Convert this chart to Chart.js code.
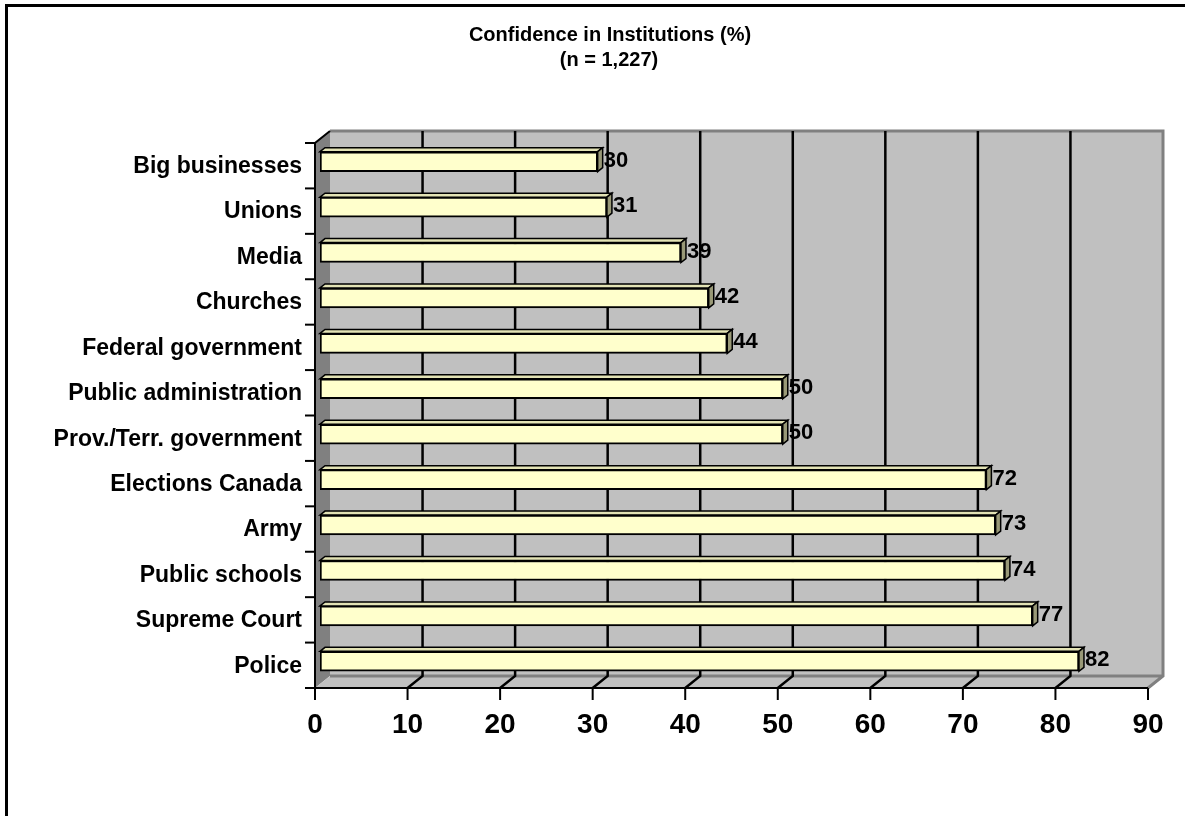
<!DOCTYPE html>
<html>
<head>
<meta charset="utf-8">
<script src="https://cdn.jsdelivr.net/npm/chart.js@4.4.1/dist/chart.umd.min.js"></script>
<style>
    html, body { margin: 0; padding: 0; background: #fff; }
    canvas { display: block; }
</style>
</head>
<body>
<canvas id="confidenceChart" width="1185" height="816"></canvas>
<script>
const institutions = ['Big businesses', 'Unions', 'Media', 'Churches', 'Federal government',
    'Public administration', 'Prov./Terr. government', 'Elections Canada', 'Army',
    'Public schools', 'Supreme Court', 'Police'];
const confidence = [30, 31, 39, 42, 44, 50, 50, 72, 73, 74, 77, 82];
const xTicks = [0, 10, 20, 30, 40, 50, 60, 70, 80, 90];
const titleLines = ['Confidence in Institutions (%)', '(n = 1,227)'];

const FONT = "'Liberation Sans', Arial, sans-serif";
// depth of the 3D box: bars sit one third of the way back
const FRONT = { dx: -5, dy: 4 };
const BACK = { dx: 10, dy: -8 };
const BAR_DEPTH = { dx: 5, dy: -4 };

const box3d = {
    id: 'box3d',
    beforeDraw(chart) {
        const ctx = chart.ctx;
        ctx.save();
        // outer frame (only top and left edges show)
        ctx.strokeStyle = '#000';
        ctx.lineWidth = 3;
        ctx.beginPath();
        ctx.moveTo(6.5, 816);
        ctx.lineTo(6.5, 5.5);
        ctx.lineTo(1185, 5.5);
        ctx.stroke();

        // title
        ctx.fillStyle = '#000';
        ctx.font = `bold 20px ${FONT}`;
        ctx.textAlign = 'center';
        ctx.textBaseline = 'alphabetic';
        ctx.fillText(titleLines[0], 610, 41);
        ctx.fillText(titleLines[1], 609, 66);
        ctx.restore();
    },
    beforeDatasetsDraw(chart) {
        const ctx = chart.ctx;
        const a = chart.chartArea;
        const xs = chart.scales.x;
        const fl = a.left + FRONT.dx, fr = a.right + FRONT.dx;
        const ft = a.top + FRONT.dy, fb = a.bottom + FRONT.dy;
        const bl = a.left + BACK.dx, br = a.right + BACK.dx;
        const bt = a.top + BACK.dy, bb = a.bottom + BACK.dy;
        ctx.save();

        // back wall
        ctx.fillStyle = '#C0C0C0';
        ctx.fillRect(bl, bt, br - bl, bb - bt);
        // left wall
        ctx.fillStyle = '#808080';
        ctx.beginPath();
        ctx.moveTo(fl, ft); ctx.lineTo(bl, bt); ctx.lineTo(bl, bb); ctx.lineTo(fl, fb);
        ctx.closePath();
        ctx.fill();
        // floor
        ctx.fillStyle = '#C0C0C0';
        ctx.beginPath();
        ctx.moveTo(fl, fb); ctx.lineTo(bl, bb); ctx.lineTo(br, bb); ctx.lineTo(fr, fb);
        ctx.closePath();
        ctx.fill();
        // wall edges
        ctx.strokeStyle = '#808080';
        ctx.lineWidth = 3;
        ctx.beginPath();
        ctx.moveTo(bl, bt); ctx.lineTo(br, bt); ctx.lineTo(br, bb); ctx.lineTo(fr, fb);
        ctx.moveTo(bl, bb); ctx.lineTo(br, bb);
        ctx.stroke();

        // grid lines on back wall and floor
        ctx.strokeStyle = '#000';
        ctx.lineWidth = 2.5;
        xTicks.forEach(v => {
            if (v === 0 || v === 90) return;
            const x = xs.getPixelForValue(v);
            ctx.beginPath();
            ctx.moveTo(x + BACK.dx, bt);
            ctx.lineTo(x + BACK.dx, bb);
            ctx.lineTo(x + FRONT.dx, fb);
            ctx.stroke();
        });

        // front axes
        ctx.lineWidth = 2;
        ctx.beginPath();
        ctx.moveTo(bl, bt); ctx.lineTo(fl, ft); ctx.lineTo(fl, fb + 12);
        ctx.moveTo(fl, fb); ctx.lineTo(fr, fb);
        ctx.stroke();
        xTicks.forEach(v => {
            const x = xs.getPixelForValue(v) + FRONT.dx;
            ctx.beginPath();
            ctx.moveTo(x, fb); ctx.lineTo(x, fb + 12);
            ctx.stroke();
        });
        const step = (a.bottom - a.top) / institutions.length;
        for (let k = 0; k <= institutions.length; k++) {
            const y = ft + k * step;
            ctx.beginPath();
            ctx.moveTo(fl - 10, y); ctx.lineTo(fl, y);
            ctx.stroke();
        }

        // tick labels
        ctx.fillStyle = '#000';
        ctx.font = `bold 28px ${FONT}`;
        ctx.textAlign = 'center';
        ctx.textBaseline = 'alphabetic';
        xTicks.forEach(v => {
            ctx.fillText(String(v), xs.getPixelForValue(v) + FRONT.dx, fb + 45);
        });
        ctx.font = `bold 23px ${FONT}`;
        ctx.textAlign = 'right';
        ctx.textBaseline = 'middle';
        institutions.forEach((name, i) => {
            ctx.fillText(name, fl - 13, chart.scales.y.getPixelForValue(i) + FRONT.dy + 1);
        });
        ctx.restore();
    },
    afterDatasetsDraw(chart) {
        const ctx = chart.ctx;
        const bars = chart.getDatasetMeta(0).data;
        ctx.save();
        ctx.lineWidth = 1.5;
        ctx.strokeStyle = '#000';
        bars.forEach((bar, i) => {
            const top = bar.y - bar.height / 2;
            const bottom = bar.y + bar.height / 2;
            // top face
            ctx.fillStyle = '#E3E3B5';
            ctx.beginPath();
            ctx.moveTo(bar.base, top);
            ctx.lineTo(bar.base + BAR_DEPTH.dx, top + BAR_DEPTH.dy);
            ctx.lineTo(bar.x + BAR_DEPTH.dx, top + BAR_DEPTH.dy);
            ctx.lineTo(bar.x, top);
            ctx.closePath();
            ctx.fill();
            ctx.stroke();
            // end face
            ctx.fillStyle = '#999977';
            ctx.beginPath();
            ctx.moveTo(bar.x, top);
            ctx.lineTo(bar.x + BAR_DEPTH.dx, top + BAR_DEPTH.dy);
            ctx.lineTo(bar.x + BAR_DEPTH.dx, bottom + BAR_DEPTH.dy);
            ctx.lineTo(bar.x, bottom);
            ctx.closePath();
            ctx.fill();
            ctx.stroke();
            // value label
            ctx.fillStyle = '#000';
            ctx.font = `bold 22px ${FONT}`;
            ctx.textAlign = 'left';
            ctx.textBaseline = 'middle';
            ctx.fillText(String(confidence[i]), bar.x + BAR_DEPTH.dx + 1, bar.y - 1);
        });
        ctx.restore();
    }
};

new Chart(document.getElementById('confidenceChart'), {
    type: 'bar',
    data: {
        labels: institutions,
        datasets: [{
            label: 'Confidence (%)',
            data: confidence,
            backgroundColor: '#FFFFCC',
            borderColor: '#000',
            borderWidth: 2,
            borderSkipped: false,
            barThickness: 20
        }]
    },
    options: {
        indexAxis: 'y',
        responsive: false,
        animation: false,
        layout: {
            padding: { left: 320, right: 32, top: 139, bottom: 132 }
        },
        scales: {
            x: { type: 'linear', min: 0, max: 90, display: false },
            y: { display: false }
        },
        plugins: {
            legend: { display: false },
            tooltip: { enabled: false }
        }
    },
    plugins: [box3d]
});
</script>
</body>
</html>
